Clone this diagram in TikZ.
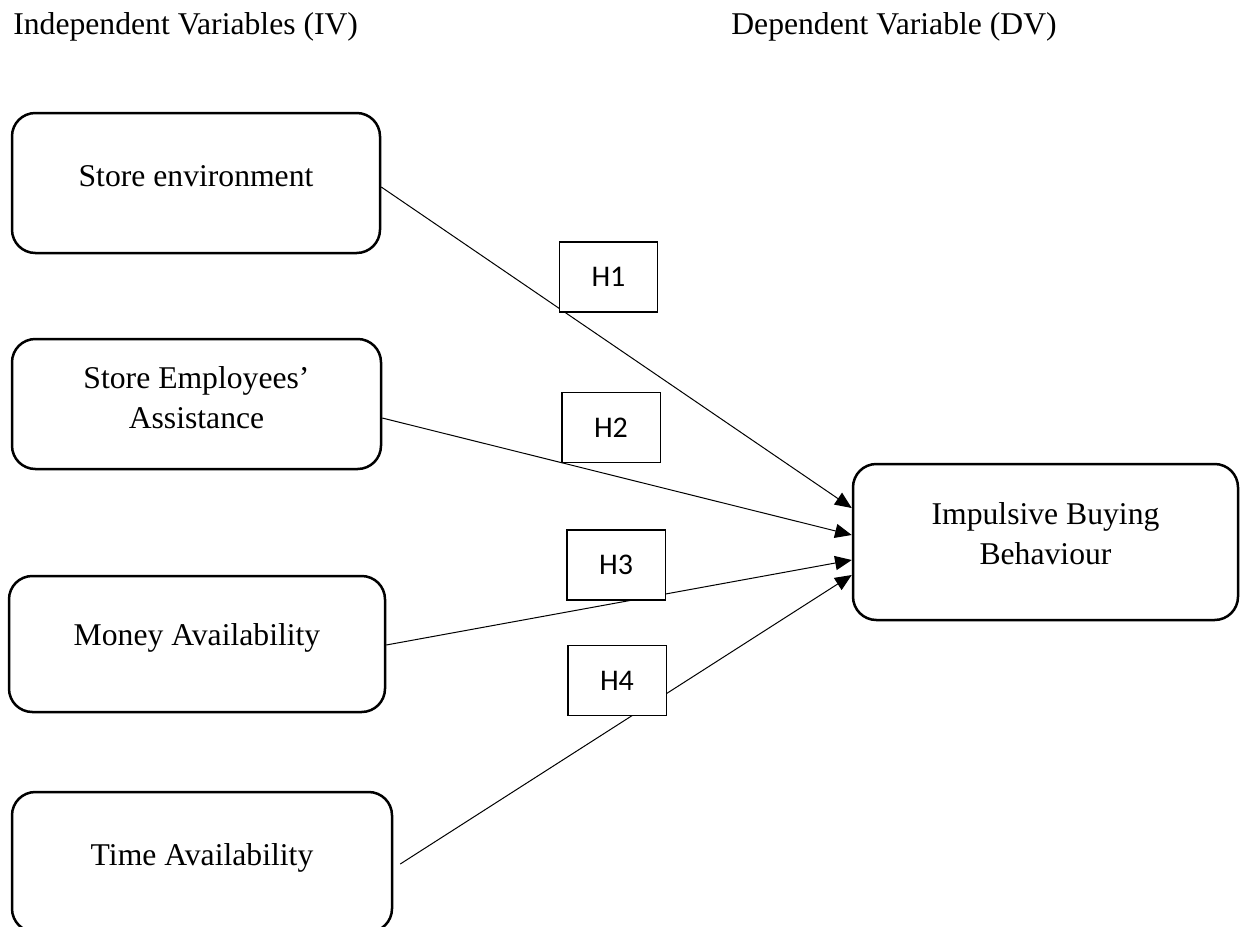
\documentclass[tikz,border=0pt]{standalone}
\usepackage{fontspec}
\setmainfont{Liberation Serif}
\newfontfamily\hypfont{Carlito}
\usetikzlibrary{arrows.meta,calc,fit}

\begin{document}
\begin{tikzpicture}[x=0.6pt,y=-0.6pt,
        varbox/.style={draw,line width=1.5pt,rounded corners=14pt,inner sep=0pt},
        vartext/.style={align=center,inner sep=0pt,font=\fontsize{19}{24}\selectfont},
        hypbox/.style={draw,fill=white,line width=0.8pt,inner sep=0pt,minimum width=59pt,minimum height=42pt,font=\hypfont\fontsize{18}{21}\selectfont},
        link/.style={line width=0.6pt,-{Triangle[length=10pt,width=8.5pt]}}]
    \useasboundingbox (0,0) rectangle (1248,926);
    % headings
    \node[vartext,anchor=west] (ivhead) at (13,27) {Independent Variables (IV)};
    \node[vartext,anchor=west] (dvhead) at (731,27) {Dependent Variable (DV)};
    % variables
    \node[varbox,fit={(12,113)(380,253)}] (env) {};
    \node[varbox,fit={(12,339)(381,469)}] (emp) {};
    \node[varbox,fit={(9,576)(385,712)}] (money) {};
    \node[varbox,fit={(12,792)(392,932)}] (time) {};
    \node[varbox,fit={(853,464)(1238,620)}] (ibb) {};
    \node[vartext] (envtext) at ($(env.center)+(0,-7)$) {Store environment};
    \node[vartext] (emptext) at ($(emp.center)+(0,-6)$) {Store Employees'\\Assistance};
    \node[vartext] (moneytext) at ($(money.center)+(0,-6)$) {Money Availability};
    \node[vartext] (timetext) at ($(time.center)+(0,-4)$) {Time Availability};
    \node[vartext] (ibbtext) at ($(ibb.center)+(0,-8)$) {Impulsive Buying\\Behaviour};
    % paths
    \draw[link] ($(env.east)+(0,4)$) -- ($(ibb.west)+(0,-34)$);
    \draw[link] ($(emp.east)+(0,14)$) -- ($(ibb.west)+(0,-7)$);
    \draw[link] ($(money.east)+(0,1)$) -- ($(ibb.west)+(0,18)$);
    \draw[link] ($(time.east)+(7,2)$) -- ($(ibb.west)+(0,33)$);
    % hypotheses
    \node[hypbox] (h1) at (608.5,277) {H1};
    \node[hypbox] (h2) at (611,427.5) {H2};
    \node[hypbox] (h3) at (616,565) {H3};
    \node[hypbox] (h4) at (617,680.5) {H4};
\end{tikzpicture}
\end{document}
